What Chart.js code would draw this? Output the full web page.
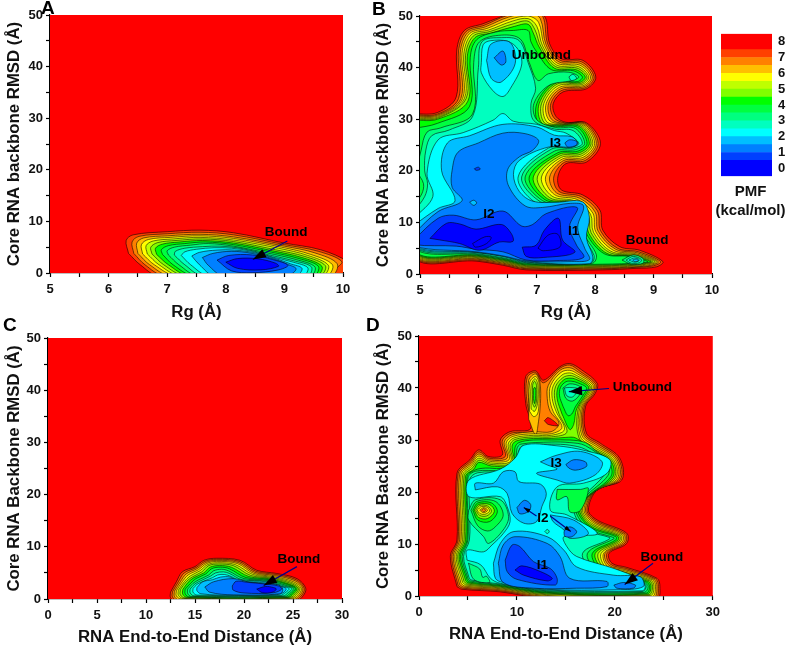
<!DOCTYPE html>
<html lang="en">
<head>
<meta charset="UTF-8">
<title>PMF contour maps</title>
<script src="https://cdn.jsdelivr.net/npm/chart.js"></script>
<style>
  body { margin: 0; background: #fff; width: 789px; height: 649px; overflow: hidden; position: relative; font-family: "Liberation Sans", Arial, sans-serif; font-weight: bold; color: #000; }
  canvas { position: absolute; }
  .letter { position: absolute; font-size: 19px; }
  .pmf { position: absolute; left: 712px; top: 181px; width: 77px; text-align: center; font-size: 15px; line-height: 19px; color: #111; }
</style>
</head>
<body>
<canvas id="chartA" width="360" height="322" style="left:0;top:0"></canvas>
<canvas id="chartB" width="360" height="322" style="left:365px;top:0"></canvas>
<canvas id="chartC" width="360" height="327" style="left:0;top:322px"></canvas>
<canvas id="chartD" width="360" height="327" style="left:365px;top:322px"></canvas>
<canvas id="scaleBar" width="79" height="170" style="left:710px;top:20px"></canvas>
<div class="letter" style="left:41px;top:-3px">A</div>
<div class="letter" style="left:372px;top:-2px">B</div>
<div class="letter" style="left:3px;top:314px">C</div>
<div class="letter" style="left:366px;top:314px">D</div>
<div class="pmf">PMF<br>(kcal/mol)</div>
<script>
// colour of the band just below each contour level
const levels = [0, 0.5, 1, 1.5, 2, 2.5, 3, 3.5, 4, 4.5, 5, 5.5, 6, 6.5, 7, 7.5, 8];
const pmfColors = ['#0000ff', '#0000ff', '#0040ff', '#0080ff', '#00bfff', '#00ffff', '#00ffbf', '#00ff80', '#00ff40', '#00ff00', '#80ff00', '#bfff00', '#ffff00', '#ffbf00', '#ff8000', '#ff4000', '#ff0000'];

// colour scale
const barLow = [-0.5, 0.5, 1, 1.5, 2, 2.5, 3, 3.5, 4, 4.5, 5, 5.5, 6, 6.5, 7, 7.5];
const barHigh = [0.5, 1, 1.5, 2, 2.5, 3, 3.5, 4, 4.5, 5, 5.5, 6, 6.5, 7, 7.5, 8.5];
const barColors = ['#0000ff', '#0040ff', '#0080ff', '#00bfff', '#00ffff', '#00ffbf', '#00ff80', '#00ff40', '#00ff00', '#80ff00', '#bfff00', '#ffff00', '#ffbf00', '#ff8000', '#ff4000', '#ff0000'];
const barTicks = [0, 1, 2, 3, 4, 5, 6, 7, 8];

// contours: [level, [[x, y], ...]], outermost first
const contoursA = [
  [7.5, [[6.34,3.8],[6.3,6.3],[6.42,7.4],[7,8],[7.56,8.3],[8.13,7.8],[9,5.8],[9.62,4.5],[10.1,2.1],[10.3,-0.5],[6.85,-0.5],[6.54,1.6]]],
  [7, [[6.43,3.8],[6.4,6],[6.52,7.1],[7,7.6],[7.56,7.9],[8.13,7.4],[9,5.5],[9.58,4.2],[9.98,2.2],[9.85,0.5],[9.8,-0.5],[6.95,-0.5],[6.62,1.6]]],
  [6.5, [[6.5,3.8],[6.48,5.8],[6.6,6.8],[7,7.2],[7.56,7.5],[8.13,7],[9,5.2],[9.52,3.9],[9.9,1.8],[9.8,-0.5],[7.05,-0.5],[6.7,1.6]]],
  [6, [[6.58,3.7],[6.56,5.5],[6.68,6.5],[7.05,6.9],[7.56,7.2],[8.13,6.7],[8.95,5],[9.45,3.6],[9.82,1.6],[9.72,-0.5],[7.15,-0.5],[6.78,1.6]]],
  [5.5, [[6.66,3.7],[6.64,5.3],[6.76,6.2],[7.1,6.6],[7.56,6.9],[8.13,6.4],[8.9,4.8],[9.4,3.4],[9.75,1.5],[9.65,-0.5],[7.22,-0.5],[6.86,1.6]]],
  [5, [[6.74,3.7],[6.72,5],[6.84,5.9],[7.15,6.3],[7.6,6.6],[8.13,6.1],[8.85,4.5],[9.35,3.2],[9.7,1.4],[9.6,-0.5],[7.3,-0.5],[6.94,1.6]]],
  [4.5, [[6.82,3.6],[6.8,4.8],[6.92,5.6],[7.2,6],[7.6,6.3],[8.13,5.8],[8.8,4.3],[9.3,3],[9.64,1.3],[9.55,-0.5],[7.37,-0.5],[7.02,1.6]]],
  [4, [[6.92,3.6],[6.9,4.5],[7.02,5.3],[7.3,5.7],[7.65,6],[8.13,5.5],[8.75,4.1],[9.25,2.8],[9.58,1.3],[9.5,-0.5],[7.45,-0.5],[7.1,1.6]]],
  [3.5, [[7.02,3.5],[7,4.3],[7.12,5],[7.4,5.4],[7.7,5.7],[8.13,5.2],[8.7,3.9],[9.2,2.6],[9.52,1.2],[9.45,-0.5],[7.52,-0.5],[7.2,1.6]]],
  [3, [[7.12,3.5],[7.14,4.2],[7.3,4.8],[7.6,5.1],[7.9,5.2],[8.3,4.7],[8.7,3.6],[9.15,2.4],[9.46,1.2],[9.4,-0.5],[7.6,-0.5],[7.3,1.6]]],
  [2.5, [[7.24,3.4],[7.3,4.1],[7.5,4.6],[7.8,4.9],[8.1,4.8],[8.45,4.2],[8.8,3.1],[9.15,2.1],[9.4,1],[9.32,-0.5],[7.7,-0.5],[7.4,1.6]]],
  [2, [[7.42,3.3],[7.55,4],[7.85,4.45],[8.15,4.45],[8.5,3.9],[8.85,2.8],[9.1,1.8],[9.3,0.9],[9.2,-0.5],[7.8,-0.5],[7.55,1.6]]],
  [1.5, [[7.6,3],[7.78,3.8],[8.1,4.2],[8.45,3.8],[8.85,2.6],[9.05,1.7],[9.2,0.8],[9.05,-0.5],[7.95,-0.5],[7.7,1.5]]],
  [1, [[7.85,2.5],[8.05,3.4],[8.45,3.5],[8.8,2.6],[9.06,1.5],[8.9,0.6],[8.45,0.05],[8.1,0.4]]],
  [0.5, [[8,2.1],[8.2,2.8],[8.55,2.75],[8.85,1.9],[8.9,1.3],[8.6,0.6],[8.2,0.9]]]
];

const contoursB = [
  [7.5, [[4.9,31],[5.3,31.3],[5.62,34.3],[5.63,43.4],[5.76,47.2],[6.08,48.5],[6.42,50],[6.8,51.5],[7.13,50],[7.22,44.6],[7.42,41.7],[7.79,41.4],[8.01,38.2],[7.85,35.9],[7.45,35.3],[7.28,33],[7.33,30.5],[7.5,29.4],[7.85,29.3],[8.09,25.3],[7.85,21.7],[7.5,21.4],[7.36,18.8],[7.42,16.3],[7.79,15.3],[8.08,12.4],[8.13,8.5],[8.42,5.3],[8.76,4.6],[9.16,2.4],[9.05,1.4],[8.7,1.1],[8.13,0.8],[6.82,0.8],[6.42,1.7],[5.96,2.5],[4.9,3.5]]],
  [7, [[4.9,30.8],[5.3,31],[5.66,34],[5.66,43.2],[5.79,47],[6.1,48.2],[6.47,50],[6.9,51],[7.1,50],[7.19,44.5],[7.4,41.4],[7.77,41.1],[7.98,38.2],[7.83,36.1],[7.43,35.6],[7.24,33],[7.29,30.3],[7.48,29.3],[7.83,29.2],[8.05,25.3],[7.83,22],[7.48,21.7],[7.29,18.8],[7.38,16],[7.76,15],[8.04,12.2],[8.09,8.4],[8.38,5],[8.74,4.3],[9.12,2.4],[9,1.6],[8.7,1.3],[8.13,1],[6.82,1],[6.42,1.9],[5.96,2.7],[4.9,3.7]]],
  [6.5, [[4.9,30.6],[5.3,30.8],[5.7,34],[5.69,43],[5.82,46.8],[6.12,47.9],[6.52,49.8],[6.9,50.5],[7.06,49.5],[7.16,44.4],[7.38,41.1],[7.75,40.8],[7.95,38.2],[7.81,36.3],[7.41,35.9],[7.2,33],[7.25,30],[7.46,29.2],[7.81,29.1],[8.02,25.3],[7.81,22.3],[7.46,22],[7.22,18.8],[7.34,15.7],[7.73,14.7],[8,12],[8.05,8.3],[8.35,4.8],[8.72,4.1],[9.08,2.4],[8.96,1.7],[8.7,1.4],[8.13,1.15],[6.82,1.15],[6.42,2.1],[5.96,2.9],[4.9,3.9]]],
  [6, [[4.9,30.4],[5.3,30.6],[5.73,34],[5.72,42.8],[5.85,46.6],[6.15,47.6],[6.55,49.4],[6.85,50],[7.03,48.8],[7.13,44.3],[7.36,40.8],[7.73,40.5],[7.92,38.2],[7.79,36.5],[7.39,36.2],[7.16,33],[7.21,29.8],[7.44,29.1],[7.79,29],[7.99,25.3],[7.79,22.6],[7.44,22.3],[7.15,18.8],[7.3,15.4],[7.7,14.4],[7.96,11.8],[8.01,8.2],[8.31,4.6],[8.7,3.9],[9.05,2.4],[8.92,1.8],[8.7,1.55],[8.13,1.3],[6.82,1.3],[6.42,2.25],[5.96,3.05],[4.9,4.1]]],
  [5.5, [[4.9,30.2],[5.3,30.4],[5.76,34],[5.75,42.6],[5.88,46.4],[6.18,47.3],[6.58,49],[6.85,49.5],[7,48],[7.1,44.2],[7.34,40.5],[7.71,40.2],[7.89,38.2],[7.77,36.7],[7.37,36.5],[7.12,33],[7.17,29.5],[7.42,29],[7.77,28.9],[7.96,25.3],[7.77,22.9],[7.42,22.6],[7.08,18.8],[7.26,15.1],[7.67,14.1],[7.92,11.6],[7.97,8.1],[8.27,4.4],[8.68,3.75],[9.02,2.4],[8.88,1.9],[8.7,1.7],[8.13,1.45],[6.82,1.45],[6.42,2.4],[5.96,3.2],[4.9,4.3]]],
  [5, [[4.9,30],[5.3,30.2],[5.79,34],[5.78,42.4],[5.91,46.1],[6.2,47],[6.6,48.5],[6.85,49],[6.97,47.3],[7.07,44.1],[7.32,40.2],[7.69,39.9],[7.86,38.2],[7.75,36.9],[7.35,36.8],[7.08,33],[7.13,29.3],[7.4,28.9],[7.75,28.75],[7.93,25.3],[7.75,23.2],[7.4,22.9],[7.01,18.8],[7.22,14.8],[7.64,13.9],[7.88,11.4],[7.93,8],[8.24,4.2],[8.66,3.6],[8.98,2.4],[8.85,2],[8.7,1.8],[8.13,1.6],[6.82,1.6],[6.42,2.55],[5.96,3.35],[4.9,4.5]]],
  [4.5, [[4.9,29.8],[5.3,30],[5.82,33.5],[5.81,42.2],[5.94,45.8],[6.22,46.7],[6.62,48],[6.85,48.4],[6.94,46.7],[7.04,44],[7.3,39.9],[7.67,39.6],[7.83,38.2],[7.73,37.1],[7.33,37],[7.04,33],[7.09,29.2],[7.38,28.8],[7.73,28.6],[7.9,25.3],[7.73,23.5],[7.38,23.2],[6.94,18.8],[7.18,14.6],[7.61,13.7],[7.84,11.2],[7.89,7.9],[8.2,4],[8.62,3.5],[8.95,2.4],[8.82,2.1],[8.7,1.95],[8.13,1.75],[6.82,1.75],[6.42,2.7],[5.96,3.5],[4.9,4.65]]],
  [4, [[4.9,28.2],[5.3,29.2],[5.85,32.5],[5.86,42],[5.97,45.4],[6.3,46.9],[6.6,47.2],[6.85,47.2],[6.9,45],[7,43],[7.25,39.6],[7.62,39.4],[7.78,38.2],[7.7,37.3],[7.3,37.2],[7,33],[7.04,29],[7.36,28.6],[7.7,28.4],[7.86,25.3],[7.7,23.8],[7.36,23.5],[6.87,18.8],[7.14,14.4],[7.58,13.5],[7.8,11],[7.85,7.8],[8.16,3.9],[8.58,3.4],[8.9,2.4],[8.78,2.15],[8.13,1.9],[6.82,1.9],[6.42,2.85],[5.96,3.65],[4.9,4.8]]],
  [3.5, [[4.9,13.5],[5.03,15.5],[5.06,17.5],[4.96,20],[5.02,24],[5.12,27.5],[5.35,28.3],[5.9,31],[5.92,41],[6.02,45],[6.4,46.3],[6.72,45.5],[6.87,41],[7.02,37.5],[7.2,38.8],[7.55,39.1],[7.72,38.2],[7.6,37.5],[7.2,36.5],[6.95,33],[7,29.9],[7.32,28.4],[7.66,28.2],[7.82,25.3],[7.66,24.1],[7.3,23.8],[6.8,18.8],[7.1,14.2],[7.55,13.3],[7.76,10.8],[7.81,7.7],[8.02,3.7],[7.95,2.1],[6.82,2.05],[6.42,3],[5.96,3.8],[4.9,4.95]]],
  [3, [[4.9,12.2],[5.08,15],[5.13,17.5],[5.08,20],[5.1,24],[5.2,26.8],[5.5,27.9],[5.9,30.5],[6,40],[6.06,45],[6.4,45.8],[6.7,45.2],[6.85,41],[6.98,36],[6.9,33],[6.95,29.7],[7.3,28.1],[7.62,27.8],[7.78,25.3],[7.62,24.4],[7.25,24.2],[6.74,18.8],[7.06,14],[7.5,13.3],[7.72,10.6],[7.77,7.6],[7.98,3.6],[7.92,2.1],[6.82,2.2],[6.42,3.15],[5.96,3.95],[4.9,5.1]]],
  [2.5, [[4.9,10.8],[5.22,15],[5.12,19.5],[5.31,26],[5.74,27.4],[6.25,29.8],[6.42,31.1],[6.6,29.6],[7,29],[7.3,27.8],[7.5,27.3],[7.72,25.3],[7.55,24.5],[7.2,24.4],[6.68,18.8],[7,13.7],[7.5,13.5],[7.66,10.6],[7.72,7.5],[7.92,3.5],[7.87,2.1],[6.82,2.3],[6.42,3.4],[5.96,4.15],[4.9,5.2]]],
  [2.5, [[6.05,41],[6.08,44.4],[6.2,45.2],[6.5,45.1],[6.68,43.5],[6.74,40.5],[6.55,36],[6.42,34.4],[6.25,35.5],[6.05,39]]],
  [2, [[4.9,9.5],[5.31,12.7],[5.6,14.2],[5.37,20],[5.47,25.4],[5.85,26.8],[6.42,29],[7,28.5],[7.3,26.9],[7.6,26.6],[7.7,25.3],[7.6,24.6],[7.2,24.6],[6.7,22],[6.6,19.3],[6.7,16],[6.93,14.1],[7.33,13.9],[7.78,14],[7.9,11],[7.85,7],[7.96,3.3],[7.9,2],[6.82,2.4],[6.42,3.45],[5.96,4.2],[4.9,5.3]]],
  [2, [[6.14,41.4],[6.22,44.6],[6.54,44.9],[6.63,40.8],[6.39,37.2],[6.22,37.9]]],
  [1.5, [[4.9,7.9],[5.31,12.1],[5.72,14.2],[5.55,16.8],[5.55,20.1],[5.65,23.6],[6,25.4],[6.42,27.3],[6.8,27.2],[7.03,25.9],[6.93,24],[6.7,22.7],[6.5,20.2],[6.52,17],[6.8,13.2],[7.1,12.9],[7.58,13.7],[7.8,13.2],[7.7,9],[7.82,5],[7.9,2.8],[7.6,2.4],[6.85,2.5],[6.4,3.55],[5.96,4.3],[4.9,5.4]]],
  [1.5, [[6.27,41.9],[6.42,43.2],[6.47,41.1],[6.39,40.5]]],
  [1.5, [[7.48,25.4],[7.56,26],[7.68,25.7],[7.68,25],[7.53,24.6]]],
  [1, [[4.9,6.7],[5.31,10.8],[5.57,11.4],[5.96,10.5],[6.42,12.2],[6.74,9.3],[6.93,9.6],[7.16,11.7],[7.69,12.9],[7.56,9.2],[7.68,5.6],[7.8,3.2],[7.33,2.6],[6.82,2.7],[6.42,4.3],[5.96,4.8],[5.62,5.4],[4.9,5.7]]],
  [1, [[5.93,20.4],[6,20.7],[6.03,20.3],[5.96,20.1]]],
  [0.5, [[5.17,6.9],[5.45,9.8],[5.68,9.7],[5.96,8.7],[6.39,9.6],[6.56,7.9],[6.59,6.3],[6.36,6.2],[6.02,4.6],[5.68,5.9],[5.34,6.6]]],
  [0.5, [[6.75,5.2],[6.99,5.6],[7.13,8.5],[7.37,10.8],[7.44,6.6],[7.65,4.2],[7.11,3.2],[6.82,3.4]]],
  [0, [[5.9,5.9],[6.11,7.2],[6.22,7.1],[6.14,5.9],[5.95,5.2]]],
  [0, [[7.02,5],[7.19,7.5],[7.36,7.7],[7.4,5.3],[7.11,4.5]]],
  [2, [[5.85,13.9],[5.92,14.3],[5.97,13.8],[5.92,13.3]]],
  [3, [[7.55,38.2],[7.62,38.7],[7.68,37.9],[7.59,37.5]]],
  [3.5, [[8.46,2.7],[8.65,3.7],[8.82,3],[8.82,2.1],[8.62,1.9]]],
  [3, [[8.53,2.7],[8.65,3.4],[8.79,2.8],[8.76,2.2],[8.62,2.1]]],
  [2.5, [[8.58,2.7],[8.68,3.1],[8.76,2.7],[8.68,2.3]]],
  [2, [[8.64,2.7],[8.7,2.9],[8.74,2.6],[8.68,2.4]]]
];

const contoursC = [
  [7.5, [[12.5,1.3],[13.1,3.3],[13.7,5.2],[15,6.2],[15.9,7.4],[17.2,7.8],[19.6,7.4],[21.3,5.5],[23.3,4.9],[25.4,3.9],[26.3,2],[25.9,0.3],[25.2,-0.5],[13,-0.5],[12.5,0.3]]],
  [7, [[12.7,1.4],[13.3,3.3],[13.9,5],[15.1,6],[16,7.2],[17.2,7.6],[19.5,7.2],[21.2,5.3],[23.2,4.7],[25.3,3.7],[26.15,2],[25.75,0.4],[25,-0.3],[13.2,-0.3],[12.7,0.4]]],
  [6.5, [[12.9,1.5],[13.5,3.3],[14.1,4.8],[15.2,5.8],[16.1,7],[17.2,7.4],[19.4,7],[21.1,5.1],[23.1,4.5],[25.2,3.5],[26,2],[25.6,0.5],[24.9,-0.2],[13.4,-0.2],[12.9,0.5]]],
  [6, [[13.1,1.6],[13.7,3.3],[14.3,4.6],[15.35,5.6],[16.2,6.8],[17.2,7.2],[19.3,6.8],[21,4.9],[23,4.3],[25.05,3.3],[25.85,2],[25.45,0.6],[24.8,0],[13.6,0],[13.1,0.6]]],
  [5.5, [[13.3,1.7],[13.9,3.3],[14.5,4.4],[15.5,5.4],[16.3,6.6],[17.3,6.95],[19.1,6.6],[20.9,4.7],[22.9,4.15],[24.9,3.15],[25.7,2],[25.3,0.7],[24.7,0.1],[13.8,0.1],[13.3,0.7]]],
  [5, [[13.5,1.8],[14.1,3.3],[14.7,4.2],[15.7,5.2],[16.4,6.4],[17.4,6.7],[18.9,6.4],[20.7,4.5],[22.8,4],[24.75,3],[25.55,2],[25.15,0.8],[24.6,0.2],[14,0.2],[13.5,0.8]]],
  [4.5, [[13.75,1.8],[14.3,3.2],[14.9,4.1],[15.9,5],[16.55,6.1],[17.5,6.4],[18.7,6.1],[20.5,4.3],[22.7,3.85],[24.6,2.85],[25.4,2],[25,0.9],[24.5,0.3],[14.2,0.3],[13.75,0.9]]],
  [4, [[14,1.9],[14.6,3.1],[15.1,3.9],[16.1,4.8],[16.7,5.8],[17.6,6.1],[18.5,5.8],[20.2,4.1],[22.6,3.7],[24.45,2.75],[25.25,2],[24.85,1],[24.4,0.4],[14.4,0.4],[14,1]]],
  [3.5, [[14.25,1.9],[14.8,3],[15.4,3.7],[16.4,4.6],[16.9,5.4],[17.7,5.7],[18.4,5.4],[20,3.9],[22.5,3.55],[24.3,2.6],[25.1,2],[24.7,1.1],[24.2,0.5],[14.6,0.5],[14.25,1.1]]],
  [3, [[14.5,1.9],[15,2.9],[15.7,3.6],[16.6,4.4],[17.1,5],[17.9,5.2],[18.5,4.9],[19.8,3.7],[22.4,3.4],[24.1,2.5],[24.9,2],[24.5,1.2],[24,0.6],[14.9,0.6],[14.5,1.2]]],
  [2.5, [[14.8,2],[15.2,2.8],[16,3.5],[16.8,4.1],[17.3,4.6],[18,4.7],[18.7,4.3],[19.6,3.5],[22.3,3.3],[23.9,2.4],[24.6,2],[24.2,1.2],[23.7,0.7],[15.2,0.75],[14.8,1.3]]],
  [2, [[15.2,2.2],[15.8,3.3],[16.8,3.7],[17.6,4.2],[18.6,4.2],[19.5,3.3],[22.2,3.1],[23.7,2.4],[24.3,2],[24,1.2],[23.3,0.85],[19,0.7],[15.6,1],[15.2,1.6]]],
  [1.5, [[16,2.3],[16.9,3.3],[18.9,3.9],[20.6,3.2],[22.2,2.9],[23.5,2.7],[23.95,1.9],[23.7,1],[18.9,0.8],[16.5,1.3]]],
  [1, [[18.8,2.5],[19.2,3.4],[20.3,3.2],[22,2.9],[23.5,2.5],[23.85,1.9],[23,1.2],[20,1.15],[18.9,1.7]]],
  [0.5, [[21.3,1.9],[22.2,2.4],[23,2.2],[23.3,1.9],[22.9,1.3],[21.9,1.2]]]
];

const contoursD = [
  [7.5, [[3.88,1.8],[3.2,7.6],[3.88,10.8],[3.88,23.6],[5.2,26.2],[6.1,28.1],[7.1,26.8],[8.5,27.1],[8.3,30],[9.3,31.6],[11.4,32.2],[10.9,37],[10.9,42.2],[11.9,43.3],[12.7,41.5],[14.4,44.1],[15.4,44.7],[16.6,43.5],[18.2,40.9],[18,39],[17,36.4],[17.1,31.3],[18.5,29.4],[20.5,26.5],[20.7,22.3],[18.2,20.4],[17.3,16.5],[18.2,14.6],[21.2,12.1],[21.2,10.1],[19.4,8.2],[19.7,6.3],[21.2,5.5],[24.3,3.4],[24.6,1.8],[24.3,-0.5],[13,-0.5],[8.3,0.8],[4.4,1.3]]],
  [7, [[4,2],[3.35,7.6],[4,10.8],[4,23.5],[5.25,25.9],[6.1,27.7],[7.15,26.5],[8.8,26.8],[8.5,29.8],[9.4,31.3],[11.7,31.9],[11.05,37],[11.05,42],[11.9,43],[12.7,41],[14.4,43.8],[15.4,44.4],[16.45,43.2],[18.05,40.8],[17.85,39],[16.85,36.3],[16.95,31.1],[18.35,29.2],[20.35,26.4],[20.55,22.4],[18.05,20.2],[17.15,16.5],[18.1,14.4],[21.05,12],[21.05,10.2],[19.2,8.2],[19.55,6.1],[21.1,5.3],[24.15,3.3],[24.45,1.8],[24.1,-0.5],[13,-0.3],[8.3,1],[4.5,1.5]]],
  [6.5, [[4.15,2.2],[3.5,7.6],[4.15,10.8],[4.15,23.4],[5.3,25.6],[6.1,27.3],[7.2,26.2],[9,26.5],[8.7,29.6],[9.5,31],[11.7,31.6],[13.5,31.6],[14.3,33.2],[13.4,35.5],[13.1,38],[13.2,40.5],[14.4,43.4],[15.4,43.9],[16.3,43],[17.9,40.7],[17.7,39],[16.7,36.2],[16.8,31],[18.2,29],[20.2,26.3],[20.4,22.5],[17.9,20],[17,16.5],[18,14.2],[20.9,11.9],[20.9,10.3],[19,8.2],[19.4,5.9],[21,5.1],[24,3.2],[24.3,1.8],[23.95,-0.3],[13,-0.1],[8.3,1.2],[4.6,1.7]]],
  [6.5, [[11.2,34],[11.2,37],[11.2,41.5],[11.9,42.7],[12.35,41],[12.4,37],[12.2,33.5],[11.9,31]]],
  [6, [[4.3,2.4],[3.65,7.6],[4.3,10.8],[4.3,23.3],[5.35,25.3],[6.1,26.9],[7.25,25.9],[9.2,26.2],[8.9,29.4],[9.6,30.7],[11.7,31.2],[13.5,31.2],[14.6,32.4],[13.7,35.5],[13.35,38],[13.45,40.5],[14.5,43],[15.4,43.4],[16.2,42.7],[17.75,40.6],[17.55,39],[16.55,36.1],[16.65,30.8],[18.05,28.8],[20.05,26.2],[20.25,22.6],[17.75,19.8],[16.85,16.5],[17.9,14],[20.75,11.8],[20.75,10.4],[18.85,8.2],[19.25,5.7],[20.9,4.9],[23.85,3.1],[24.15,1.8],[23.8,-0.1],[13,0.1],[8.3,1.4],[4.7,1.9]]],
  [6, [[11.3,35.5],[11.3,41],[11.9,42.2],[12.25,41],[12.25,37],[12.1,35],[11.7,34.5]]],
  [5.5, [[4.45,2.6],[3.8,7.6],[4.45,10.8],[4.45,23.2],[5.4,25],[6.1,26.5],[7.3,25.6],[9.35,25.9],[9.1,29.2],[9.7,30.4],[11.7,30.9],[13.5,30.9],[14.85,32],[14,35.5],[13.6,38],[13.7,40.4],[14.6,42.5],[15.4,42.9],[16.1,42.4],[17.6,40.5],[17.4,39],[16.4,36],[16.5,30.6],[17.9,28.6],[19.9,26.1],[20.1,22.7],[17.6,19.6],[16.7,16.5],[17.8,13.8],[20.6,11.7],[20.6,10.5],[18.6,8.2],[19.1,5.5],[20.8,4.7],[23.7,3],[24,1.8],[23.65,0.1],[13,0.25],[8.3,1.55],[4.8,2.1]]],
  [5.5, [[11.45,36],[11.45,40.5],[11.85,41.8],[12.15,40.5],[12.1,37],[11.8,35.5]]],
  [5, [[4.6,2.8],[3.95,7.6],[4.6,10.8],[4.6,23.1],[5.5,24.7],[6.1,26.1],[7.35,25.3],[9.5,25.6],[9.3,29],[9.8,30.1],[11.7,30.6],[13.5,30.6],[15.1,31.5],[14.3,35],[13.85,38],[13.95,40.3],[14.7,42],[15.4,42.4],[16,42.1],[17.45,40.4],[17.25,39],[16.25,35.9],[16.35,30.4],[17.75,28.4],[19.75,26],[19.95,22.8],[17.45,19.4],[16.55,16.5],[17.7,13.6],[20.45,11.6],[20.45,10.6],[18.3,8.2],[18.95,5.3],[20.7,4.5],[23.55,2.9],[23.85,1.8],[23.5,0.25],[13,0.4],[8.3,1.7],[4.9,2.3]]],
  [5, [[11.6,37],[11.6,40.5],[11.8,41.3],[12,40.5],[12,37.5],[11.8,36.3]]],
  [4.5, [[4.75,3],[4.1,7.6],[4.75,10.8],[4.75,23],[5.6,24.4],[6.1,25.7],[7.4,25],[9.65,25.3],[9.5,28.8],[9.9,29.8],[11.7,30.3],[13.5,30.3],[15,30.5],[16,30.4],[17.6,28.2],[19.6,25.9],[19.8,22.9],[17.3,19.2],[16.4,16.5],[17.6,13.4],[20.3,11.5],[20.3,10.7],[18,8.2],[18.8,5.1],[20.6,4.3],[23.4,2.8],[23.7,1.8],[23.35,0.4],[13,0.55],[8.3,1.85],[5,2.5]]],
  [4.5, [[14.6,35],[14.1,38],[14.2,40.2],[14.8,41.6],[15.4,41.9],[16,41.7],[17.3,40.3],[17.1,39],[16.1,36],[15.8,33],[15.4,32]]],
  [4.5, [[11.68,38],[11.72,40],[11.9,40],[11.9,38],[11.8,37]]],
  [4, [[4.9,3.2],[4.25,7.6],[4.9,10.8],[4.9,22.9],[5.7,24.2],[6.8,24.6],[8.3,24.5],[9.7,25],[9.8,28.5],[10.2,29.5],[11.7,30],[13.5,30],[15.4,30],[17,29.5],[18,28],[19.4,25.8],[19.6,23],[17.1,19],[16.2,16.5],[17.5,13.2],[20.1,11.4],[20.1,10.8],[17.7,8.2],[18.6,4.9],[20.5,4.1],[23.2,2.7],[23.55,1.8],[23.2,0.55],[13,0.7],[8.3,2],[5.1,2.7]]],
  [4, [[14.7,36.5],[14.35,38.5],[14.45,40.1],[15,41.2],[15.6,41.3],[16.2,41],[17.1,40.1],[16.9,39],[16,36.5],[15.6,35],[15.2,34.7]]],
  [3.5, [[5,3.4],[4.4,7.6],[5,10.8],[5,22.7],[5.8,24],[8.5,24.2],[9.9,25.2],[10,28.3],[10.4,29.2],[13.5,29.6],[15.4,29.5],[17,28.9],[19.2,25.6],[19.3,23.2],[16.9,19],[16,16.5],[17.3,13],[19.9,11.2],[19.9,11],[17.2,8.2],[18.3,4.7],[20.4,3.9],[23,2.6],[23.4,1.8],[23,0.7],[13,0.85],[8.3,2.15],[5.2,2.9]]],
  [3.5, [[14.7,40],[15.4,40.8],[16.5,40.2],[16.5,39],[15.7,37.5],[15,38]]],
  [3, [[5.1,3.6],[4.55,7.6],[5.15,10.8],[5.15,17],[5.2,22.5],[6,23.7],[8.7,24],[10,25.5],[10.2,28],[10.6,28.9],[13.5,29.2],[15.4,29],[17,28.2],[19,25.5],[19,23.5],[16.7,19],[15.8,16.5],[17,12.8],[19.5,11.2],[19.3,10.8],[16.7,8.2],[18,4.5],[20.3,3.7],[22.9,2.5],[23.2,1.8],[22.8,0.85],[13,1],[8.3,2.3],[5.3,3.1]]],
  [3, [[14.85,40],[15.4,40.1],[16.2,39.8],[15.7,38.3],[15.1,38.5]]],
  [3.5, [[5.05,6.3],[6.2,5.2],[6.5,3.6],[6.9,3.8],[7.2,2.6],[5.6,3.2]]],
  [4, [[14.1,20.5],[16.5,20.5],[17.3,20.7],[16.5,16.5],[15.4,16.2],[15.1,19.1],[14.1,18.5]]],
  [2.5, [[4.9,6.9],[4.9,8.8],[6.6,8.5],[7.45,9.8],[8.6,12],[9.3,14.3],[9,17.2],[8.3,19.1],[5.1,19.1],[5.1,22.3],[8.3,24.4],[9.8,26.5],[10.7,29],[14,28.9],[17.1,27.9],[19.5,26.2],[19.2,23.6],[16.8,21.7],[14.1,21],[13.4,16.5],[15.1,15.6],[18.2,12],[14.8,11.4],[15.1,9.5],[16.1,7.6],[19.9,5.3],[22.6,3.2],[23.1,1.8],[22.8,1],[13,1.15],[8.3,2.45],[7.3,3.4],[6.3,6]]],
  [2, [[5.75,20.4],[5.75,21.7],[7.6,21.7],[8.6,23.9],[9.8,23.9],[10.2,22],[12.4,21.5],[13,19.7],[12.55,17.2],[12,14.3],[10.7,14],[9.5,15.9],[9,19.7],[8,21]]],
  [2, [[12.4,25.8],[14.1,27.1],[16.5,27.8],[18.7,25.8],[18,23.3],[15.4,21.7],[14.1,22.3],[12,23.6],[14.1,24.4],[13.1,25.2]]],
  [2, [[13.4,15.6],[15.8,14.6],[17.3,12],[15.4,11.1],[14.8,12.7],[13.7,14.3]]],
  [2, [[7.6,6.3],[8.3,10.1],[9.7,12.4],[13.1,11.4],[14.8,8.8],[16.1,5.6],[19.9,4],[22.6,3.7],[22.9,1.8],[20.2,1.2],[13,1.3],[8.6,2.6],[7.8,3.4]]],
  [1.5, [[8.1,6.3],[8.6,9.8],[9.8,11.4],[13.1,10.1],[14.4,7.6],[15.4,3.4],[19.2,2.8],[19.2,1.8],[16.1,1.5],[11.7,1.5],[8.6,2.6]]],
  [1.5, [[19.9,2.1],[20.9,2.6],[22.1,2.1],[21.9,1.5],[20.2,1.5]]],
  [1.5, [[10,17],[10.75,18.4],[11.4,17.6],[11.2,16.3],[10.3,15.8]]],
  [1.5, [[15,25.3],[15.8,26.2],[17,25.8],[17.1,24.9],[16,24.2],[15.3,24.6]]],
  [1.5, [[14.8,12.4],[15.4,13.3],[16.1,12.4],[15.6,11.4],[14.9,11.5]]],
  [1, [[8.8,6.9],[9.5,9.8],[10.3,9.5],[11.7,6.6],[13.4,5.3],[14.1,3.4],[13.9,2.1],[10,3.2],[9,4.7]]],
  [0.5, [[9.8,5],[10.5,5.8],[12.4,4.7],[13.6,3.4],[13.1,2.9],[10.7,4]]],
  [8, [[12.8,33.7],[13.2,34.3],[14.2,32.8],[13.2,33]]],
  [3, [[12.85,12.4],[13.1,12.8],[13.3,12.4],[13.1,12]]],
  [3.5, [[5.07,16.5],[5.75,18.5],[8.3,18.5],[9.15,15.3],[8.6,12.7],[7.1,10.1],[6.6,11.4],[5.07,14.6]]],
  [4, [[5.3,16.5],[5.9,18.2],[7.8,18.2],[8.6,15.6],[7.8,13.3],[7,12.5],[6,13.5]]],
  [4.5, [[5.5,16.5],[6,17.9],[7.4,17.9],[8,16.2],[7.2,14.3],[6,14.6]]],
  [5, [[5.65,16.5],[6.1,17.6],[7.2,17.6],[7.7,16.3],[7,14.9],[6.1,15.1]]],
  [5.5, [[5.8,16.5],[6.2,17.4],[7,17.3],[7.4,16.3],[6.9,15.4],[6.2,15.5]]],
  [6, [[5.95,16.5],[6.4,17.2],[7,17],[7.2,16.3],[6.7,15.7],[6.2,15.9]]],
  [6.5, [[6.2,16.5],[6.6,17],[7,16.5],[6.6,16]]],
  [7, [[6.4,16.5],[6.6,16.8],[6.8,16.5],[6.6,16.2]]]
];

// text and arrows inside the panels, in axis units
const notesA = [['Bound', 9.03, 7.9]];
const arrowsA = [[9.05, 6.2, 8.46, 2.6]];
const notesB = [['Unbound', 7.08, 42.4], ['I3', 7.32, 25.4], ['I2', 6.18, 11.6], ['I1', 7.63, 8.2], ['Bound', 8.89, 6.6]];
const arrowsB = [];
const notesC = [['Bound', 25.6, 7.7]];
const arrowsC = [[25.4, 6.2, 22, 2.6]];
const notesD = [['Unbound', 22.8, 40.1], ['I3', 14, 25.6], ['I2', 12.65, 14.9], ['I1', 12.6, 6], ['Bound', 24.8, 7.4]];
const arrowsD = [[19.4, 39.9, 15.3, 39.3], [23.9, 6.3, 21, 2.2]];
const thinArrowsD = [[12, 15.4, 10.7, 17], [13.4, 15.4, 15.5, 12.4]];

const yTitleRg = 'Core RNA backbone RMSD (Å)';
const yTitleEnd = 'Core RNA Backbone RMSD (Å)';
const xTitleRg = 'Rg (Å)';
const xTitleEnd = 'RNA End-to-End Distance (Å)';

const tickFont = { family: '"Liberation Sans", Arial, sans-serif', weight: 'bold', size: 13 };
const titleFont = { family: '"Liberation Sans", Arial, sans-serif', weight: 'bold', size: 16.8 };

function drawArrow(chart, a, head) {
  const ctx = chart.ctx, xs = chart.scales.x, ys = chart.scales.y;
  const x0 = xs.getPixelForValue(a[0]), y0 = ys.getPixelForValue(a[1]);
  const x1 = xs.getPixelForValue(a[2]), y1 = ys.getPixelForValue(a[3]);
  const ang = Math.atan2(y1 - y0, x1 - x0);
  ctx.strokeStyle = '#00008b';
  ctx.lineWidth = 1.2;
  ctx.beginPath(); ctx.moveTo(x0, y0); ctx.lineTo(x1, y1); ctx.stroke();
  ctx.fillStyle = '#000';
  ctx.beginPath();
  ctx.moveTo(x1, y1);
  ctx.lineTo(x1 - head * Math.cos(ang - 0.33), y1 - head * Math.sin(ang - 0.33));
  ctx.lineTo(x1 - head * Math.cos(ang + 0.33), y1 - head * Math.sin(ang + 0.33));
  ctx.closePath(); ctx.fill();
}

const panelPaint = {
  id: 'panelPaint',
  beforeDatasetsDraw(chart) {
    const a = chart.chartArea;
    chart.ctx.fillStyle = '#ff0000';
    chart.ctx.fillRect(a.left, a.top, a.width, a.height);
  },
  afterDatasetsDraw(chart, args, opts) {
    const ctx = chart.ctx, xs = chart.scales.x, ys = chart.scales.y;
    opts.arrows.forEach(a => drawArrow(chart, a, 14));
    opts.thin.forEach(a => drawArrow(chart, a, 7));
    ctx.fillStyle = '#000';
    ctx.font = 'bold 13.5px "Liberation Sans", Arial, sans-serif';
    ctx.textAlign = 'center';
    ctx.textBaseline = 'middle';
    opts.notes.forEach(n => ctx.fillText(n[0], xs.getPixelForValue(n[1]), ys.getPixelForValue(n[2])));
  }
};

function drawPanel(id, contours, o) {
  const datasets = contours.map(c => ({
    data: c[1].concat([c[1][0]]),
    showLine: true,
    fill: 'shape',
    tension: 0.35,
    pointRadius: 0,
    borderWidth: 0.7,
    borderColor: 'rgba(0,0,0,0.8)',
    backgroundColor: pmfColors[levels.indexOf(c[0])]
  })).reverse();

  new Chart(document.getElementById(id), {
    type: 'scatter',
    data: { datasets },
    plugins: [panelPaint],
    options: {
      responsive: false,
      animation: false,
      layout: { padding: { top: o.top, right: o.right } },
      plugins: {
        legend: { display: false },
        tooltip: { enabled: false },
        panelPaint: { notes: o.notes, arrows: o.arrows, thin: o.thin || [] }
      },
      scales: {
        x: {
          min: o.xMin, max: o.xMax,
          afterFit: s => { s.height = o.xHeight; },
          border: { color: '#000', width: 1.2 },
          grid: { drawOnChartArea: false, color: '#000', tickLength: 4, tickWidth: 1.2 },
          ticks: { stepSize: o.xStep, autoSkip: false, maxRotation: 0, padding: 5, color: '#111', font: tickFont,
            callback: v => (v % o.xMajor === 0 ? v : '') },
          title: { display: true, text: o.xTitle, color: '#111', font: titleFont, padding: { top: 0, bottom: o.xPad } }
        },
        y: {
          min: 0, max: 50,
          afterFit: s => { s.width = o.yWidth; },
          border: { color: '#000', width: 1.2 },
          grid: { drawOnChartArea: false, color: '#000', tickLength: 4, tickWidth: 1.2 },
          ticks: { stepSize: 5, autoSkip: false, padding: 3, color: '#111', font: tickFont,
            callback: v => (v % 10 === 0 ? v : '') },
          title: { display: true, text: o.yTitle, color: '#111', font: titleFont, padding: { top: o.yPad, bottom: 0 } }
        }
      }
    }
  });
}

drawPanel('chartA', contoursA, { top: 15, right: 17, yWidth: 50, xHeight: 49, xMin: 5, xMax: 10, xStep: 0.5, xMajor: 1, xTitle: xTitleRg, yTitle: yTitleRg, xPad: 0, yPad: 4, notes: notesA, arrows: arrowsA });
drawPanel('chartB', contoursB, { top: 16, right: 13, yWidth: 55, xHeight: 48, xMin: 5, xMax: 10, xStep: 0.5, xMajor: 1, xTitle: xTitleRg, yTitle: yTitleRg, xPad: 0, yPad: 8, notes: notesB, arrows: arrowsB });
drawPanel('chartC', contoursC, { top: 16, right: 18, yWidth: 48, xHeight: 50, xMin: 0, xMax: 30, xStep: 2.5, xMajor: 5, xTitle: xTitleEnd, yTitle: yTitleEnd, xPad: 2, yPad: 4, notes: notesC, arrows: arrowsC });
drawPanel('chartD', contoursD, { top: 14, right: 12, yWidth: 54, xHeight: 53, xMin: 0, xMax: 30, xStep: 5, xMajor: 10, xTitle: xTitleEnd, yTitle: yTitleEnd, xPad: 5, yPad: 8, notes: notesD, arrows: arrowsD, thin: thinArrowsD });

new Chart(document.getElementById('scaleBar'), {
  type: 'bar',
  data: {
    labels: ['PMF'],
    datasets: barLow.map((low, i) => ({ data: [[low, barHigh[i]]], backgroundColor: barColors[i], borderWidth: 0 }))
  },
  options: {
    responsive: false,
    animation: false,
    layout: { padding: { top: 11, left: 11, bottom: 0 } },
    datasets: { bar: { grouped: false, barPercentage: 1, categoryPercentage: 1 } },
    plugins: { legend: { display: false }, tooltip: { enabled: false } },
    scales: {
      x: { display: false },
      y: {
        position: 'right', min: -0.5, max: 8.5,
        afterFit: s => { s.width = 17; },
        afterBuildTicks: s => { s.ticks = barTicks.map(v => ({ value: v })); },
        border: { display: false },
        grid: { display: false, drawTicks: false },
        ticks: { padding: 6, color: '#111', font: tickFont }
      }
    }
  }
});
</script>
</body>
</html>
